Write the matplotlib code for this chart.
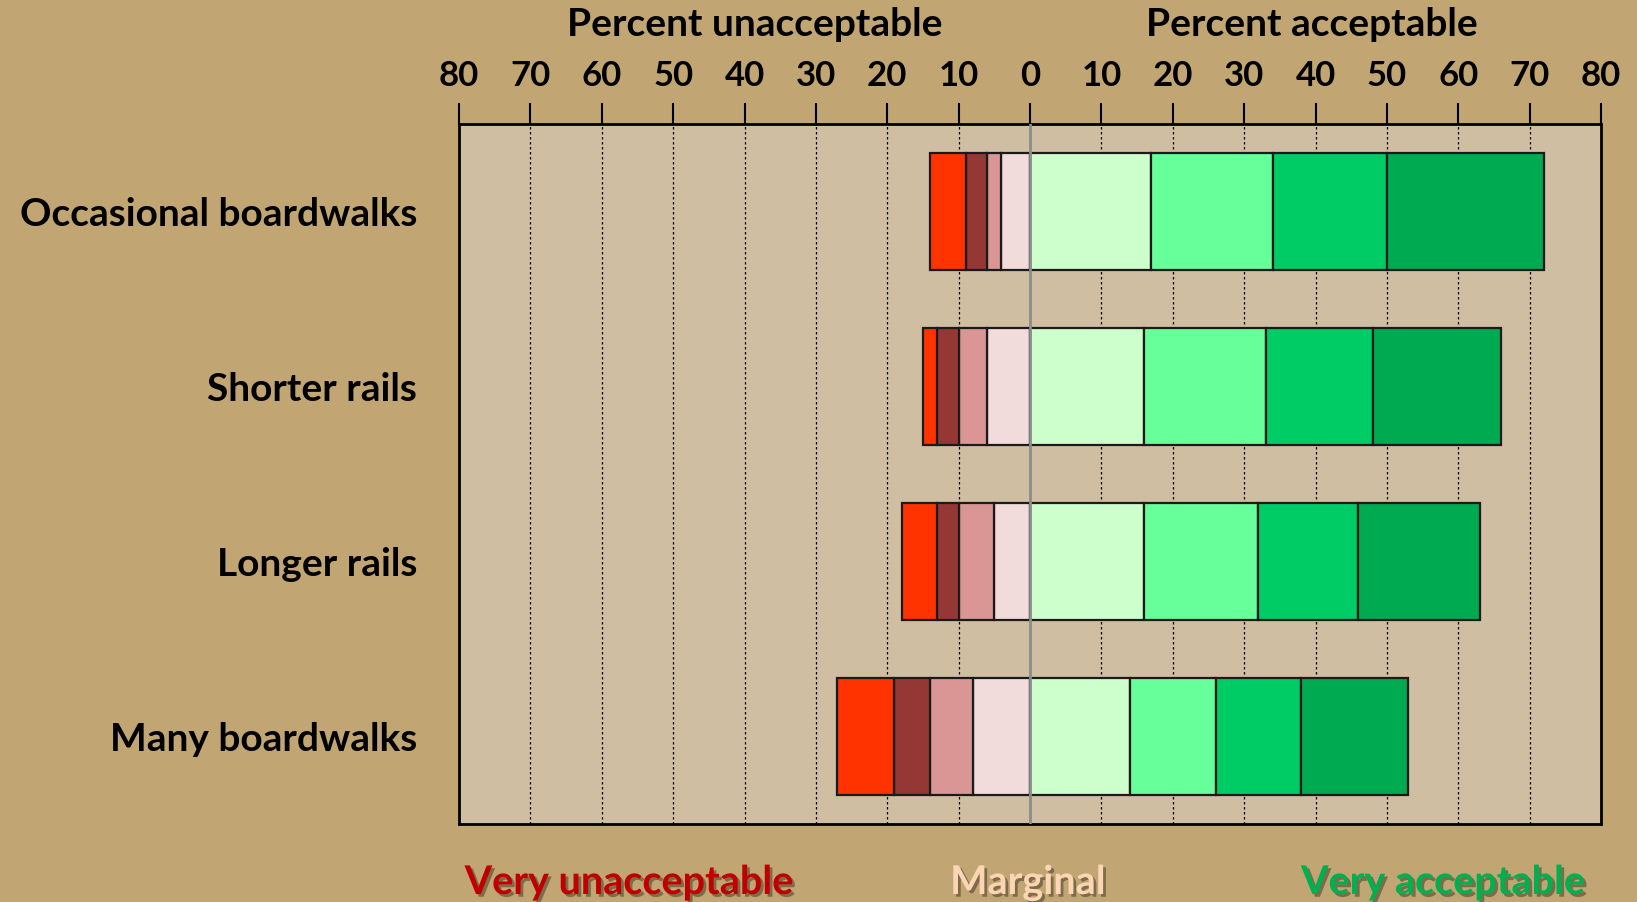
import numpy as np
import matplotlib.pyplot as plt
import matplotlib.patheffects as pe

plt.rcParams['font.family'] = ['Lato', 'DejaVu Sans']
plt.rcParams['font.weight'] = 'bold'

# Datos
categories = ["Occasional boardwalks", "Shorter rails", "Longer rails", "Many boardwalks"]
# unacceptable side, from 0 outwards
unacc_slight = [4, 6, 5, 8]
unacc_somewhat = [2, 4, 5, 6]
unacc_mid = [3, 3, 3, 5]
unacc_very = [5, 2, 5, 8]
# acceptable side, from 0 outwards
acc_slight = [17, 16, 16, 14]
acc_somewhat = [17, 17, 16, 12]
acc_mid = [16, 15, 14, 12]
acc_very = [22, 18, 17, 15]

unacc_colors = ['#F2DCDB', '#D99694', '#953735', '#FF3300']
acc_colors = ['#CCFFCC', '#66FF99', '#00CC66', '#00AA50']

W, H = 1637, 902
fig = plt.figure(figsize=(W / 100, H / 100), dpi=100, facecolor='#C1A673')
ax = fig.add_axes([459 / W, 1 - 824 / H, (1601 - 459) / W, (824 - 124) / H])
ax.set_facecolor('#CFBEA1')

y = np.arange(len(categories))
h = 0.67

left = np.zeros(len(categories))
for vals, col in zip([unacc_slight, unacc_somewhat, unacc_mid, unacc_very], unacc_colors):
    v = np.array(vals, dtype=float)
    ax.barh(y, -v, left=left, height=h, color=col, edgecolor='#1a1a1a', linewidth=1.6, zorder=3)
    left = left - v

left = np.zeros(len(categories))
for vals, col in zip([acc_slight, acc_somewhat, acc_mid, acc_very], acc_colors):
    v = np.array(vals, dtype=float)
    ax.barh(y, v, left=left, height=h, color=col, edgecolor='#1a1a1a', linewidth=1.6, zorder=3)
    left = left + v

ax.set_xlim(-80, 80)
ax.set_ylim(3.5, -0.5)

ticks = np.arange(-80, 81, 10)
ax.xaxis.tick_top()
ax.set_xticks(ticks)
ax.set_xticklabels([str(abs(t)) for t in ticks], fontsize=25, fontweight='bold')
ax.tick_params(axis='x', length=15, width=1.5, color='black', pad=8)

ax.set_yticks(y)
ax.set_yticklabels(categories, fontsize=28, fontweight='bold')
ax.tick_params(axis='y', length=0, pad=30)

for t in ticks:
    if t in (-80, 80):
        continue
    if t == 0:
        ax.axvline(0, color='#8c8c8c', lw=2, zorder=4)
    else:
        ax.axvline(t, color='black', lw=0.9, ls=(0, (2, 2)), zorder=1)

for s in ax.spines.values():
    s.set_linewidth(2)
    s.set_color('black')

fig.text(755 / W, 1 - 25 / H, "Percent unacceptable", ha='center', va='center',
         fontsize=28, fontweight='bold')
fig.text(1312 / W, 1 - 25 / H, "Percent acceptable", ha='center', va='center',
         fontsize=28, fontweight='bold')

shadow = [pe.SimplePatchShadow(offset=(2, -2), shadow_rgbFace='black', alpha=0.35), pe.Normal()]
fig.text(629 / W, 1 - 864 / H, "Very unacceptable", ha='center', va='top',
         fontsize=28.5, fontweight='bold', color='#C00000', path_effects=shadow)
fig.text(1028 / W, 1 - 864 / H, "Marginal", ha='center', va='top',
         fontsize=28.5, fontweight='bold', color='#FCD5B5', path_effects=shadow)
fig.text(1443 / W, 1 - 864 / H, "Very acceptable", ha='center', va='top',
         fontsize=28.5, fontweight='bold', color='#00B050', path_effects=shadow)

fig.savefig('out.png', dpi=100, facecolor=fig.get_facecolor())
